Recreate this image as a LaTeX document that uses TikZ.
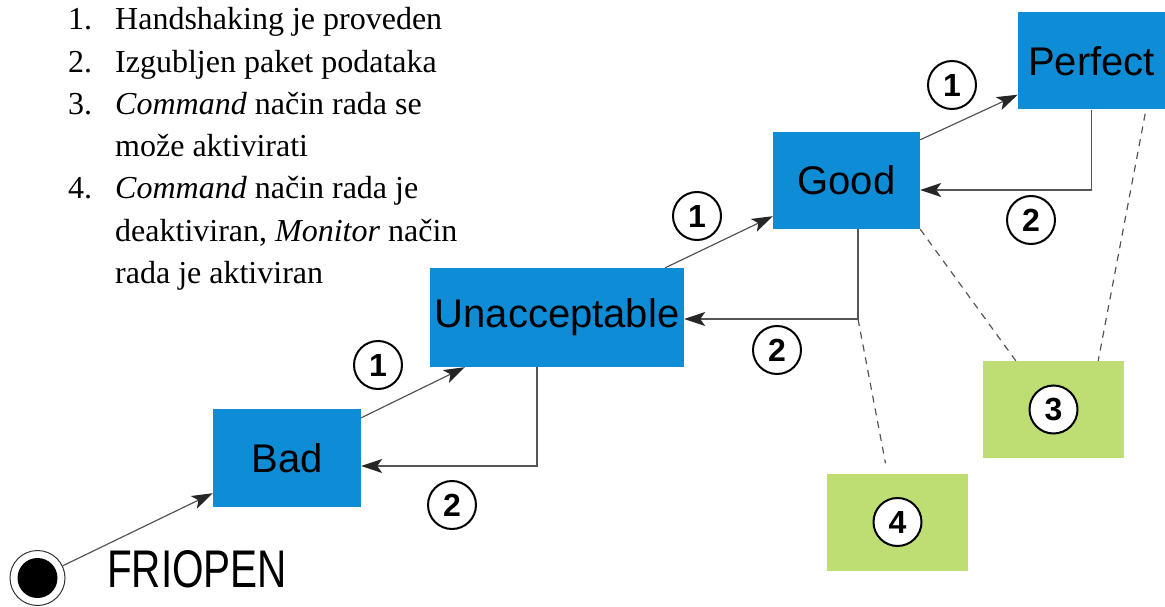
\documentclass[tikz,border=0pt]{standalone}
\usepackage{fontspec}
\setmainfont{Liberation Serif}
\setsansfont{Liberation Sans}
\usepackage{graphicx}
\usetikzlibrary{arrows.meta,positioning,calc}

\definecolor{stateblue}{RGB}{14,141,214}
\definecolor{notegreen}{RGB}{190,221,115}
\definecolor{linegray}{RGB}{85,85,85}

\tikzset{
  state/.style={fill=stateblue, inner sep=0pt, font=\sffamily\fontsize{40}{48}\selectfont},
  note/.style={fill=notegreen, inner sep=0pt, minimum width=141pt, minimum height=97pt},
  numcircle/.style={circle, draw=black, line width=2pt, fill=white, minimum size=48pt,
    inner sep=0pt, font=\sffamily\bfseries\fontsize{32}{34}\selectfont},
  trans/.style={draw=linegray, line width=1.2pt,
    -{Stealth[length=21pt,width=14pt,inset=5pt,color=black!85]}},
  goback/.style={draw=linegray, line width=1.5pt,
    -{Stealth[length=21pt,width=14pt,inset=5pt,color=black!85]}},
  link/.style={draw=linegray, line width=1.2pt, dash pattern=on 7pt off 6pt},
  listline/.style={anchor=base west, inner sep=0pt, font=\fontsize{32}{38}\selectfont}
}

\begin{document}
\begin{tikzpicture}[x=1pt,y=-1pt]
  \useasboundingbox (0,0) rectangle (1165,607);

  % legend
  \foreach \txt [count=\i] in
  {Handshaking je proveden, Izgubljen paket podataka, \textit{Command} način rada se,
   može aktivirati, \textit{Command} način rada je, {deaktiviran, \textit{Monitor} način},
   rada je aktiviran}{
    \node[listline] (line\i) at (115, {30+42.2*(\i-1)}) {\txt};
  }
  \foreach \n/\i in {1/1,2/2,3/3,4/5}{
    \node[listline] (num\n) at (68, {30+42.2*(\i-1)}) {\n.};
  }

  % states
  \node[state, minimum width=148pt, minimum height=98pt] (bad) at (287,458) {Bad};
  \node[state, minimum width=254pt, minimum height=99pt] (unacc) at (557,317.5) {Unacceptable};
  \node[state, minimum width=147pt, minimum height=97pt] (good) at (846.5,180.5) {Good};
  \node[state, minimum width=147pt, minimum height=97pt] (perfect) at (1091.5,61) {Perfect};

  % notes
  \node[note] (note3) at (1053.5,409.5) {};
  \node[note] (note4) at (897.5,522) {};
  \node[numcircle] (three) at (note3) {3};
  \node[numcircle] (four) at (note4) {4};

  % start
  \node[circle, draw=black!80, line width=1pt, minimum size=55pt, inner sep=0pt] (start) at (37.5,578) {};
  \node[circle, fill=black, minimum size=40pt, inner sep=0pt] (startdot) at (start) {};
  \node[anchor=base west, inner sep=0pt, font=\sffamily\fontsize{53}{60}\selectfont] (friopen)
    at (107,587) {\scalebox{0.764}[1]{FRIOPEN}};

  % transitions 1
  \draw[trans] (start) -- ([yshift=14pt]bad.south west);
  \draw[trans] ([yshift=-9pt]bad.north east) -- ([xshift=35pt]unacc.south west);
  \draw[trans] ([xshift=-19pt]unacc.north east) -- ([yshift=13pt]good.south west);
  \draw[trans] ([yshift=-8pt]good.north east) -- ([yshift=15pt]perfect.south west);
  \node[numcircle] (one1) at (378,365) {1};
  \node[numcircle] (one2) at (697,216) {1};
  \node[numcircle] (one3) at (952,85) {1};

  % transitions 2
  \path ([xshift=11.5pt]good.south) coordinate (goodfoot);
  \coordinate (goodturn) at (goodfoot |- unacc.east);
  \draw[goback] (perfect.south) |- ([yshift=-9.5pt]good.east);
  \draw[goback] (goodfoot) |- ([yshift=-1.5pt]unacc.east);
  \draw[goback] ([xshift=-20pt]unacc.south) |- ([yshift=-8pt]bad.east);
  \node[numcircle] (two1) at (452,505) {2};
  \node[numcircle] (two2) at (777,350) {2};
  \node[numcircle] (two3) at (1031,220) {2};

  % notes links
  \draw[link] ([yshift=-1.5pt]goodturn) -- ([xshift=-12pt,yshift=10pt]note4.north);
  \draw[link] (good.south east) -- ([xshift=33pt]note3.north west);
  \draw[link] ([xshift=-20pt,yshift=-4pt]perfect.south east) -- ([xshift=-26pt]note3.north east);
\end{tikzpicture}
\end{document}
